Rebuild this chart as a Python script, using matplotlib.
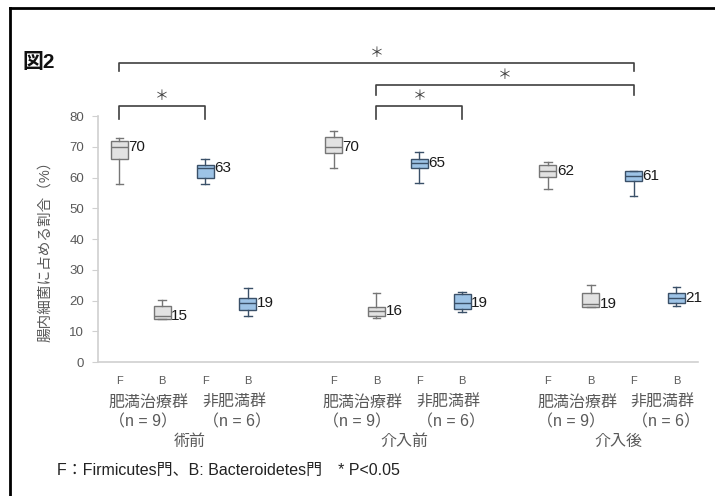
"""Figure 2: share of Firmicutes / Bacteroidetes in gut bacteria, box plots."""

import matplotlib

matplotlib.use("Agg")
import matplotlib.pyplot as plt
from matplotlib.lines import Line2D

plt.rcParams["font.family"] = ["Liberation Sans", "Noto Sans CJK JP", "DejaVu Sans"]

# box positions: 3 periods x (obese F, obese B, non-obese F, non-obese B)
positions = [0, 1, 2, 3, 5, 6, 7, 8, 10, 11, 12, 13]
phylum = ["F", "B", "F", "B"] * 3
is_obese = [True, True, False, False] * 3

whis_lo = [58, 14, 58, 15, 63, 14.2, 58.2, 16.2, 56.2, 18, 54, 18.2]
q1 = [66, 14.1, 60, 17, 68, 15, 63, 17.1, 60.1, 18, 59, 19.3]
med = [70, 15, 63, 19.1, 70.1, 16.6, 64.7, 19.3, 62.2, 18.8, 60.6, 20.7]
q3 = [72, 18.2, 64.2, 21, 73.2, 18, 66, 22.1, 64.2, 22.4, 62.2, 22.4]
whis_hi = [73, 20.2, 66, 24.2, 75.2, 22.4, 68.2, 22.9, 65.2, 25, 62.2, 24.3]
value_labels = [70, 15, 63, 19, 70, 16, 65, 19, 62, 19, 61, 21]

group_names = ["肥満治療群", "非肥満群"] * 3
group_n = ["（n = 9）", "（n = 6）"] * 3
periods = ["術前", "介入前", "介入後"]

# significance brackets: (left box, right box, bar height, leg bottom)
brackets = [(0, 10, 97.2, 94.8), (5, 10, 90.1, 86.8), (5, 7, 83.3, 79.0), (0, 2, 83.3, 79.0)]

fig = plt.figure(figsize=(7.15, 4.96), dpi=100)
ax = fig.add_axes([0.137, 0.270, 0.839, 0.496])

stats = []
for i in range(len(positions)):
    stats.append(
        {
            "whislo": whis_lo[i],
            "q1": q1[i],
            "med": med[i],
            "q3": q3[i],
            "whishi": whis_hi[i],
        }
    )

for i, s in enumerate(stats):
    if is_obese[i]:
        face, edge = "#e2e2e2", "#767676"
    else:
        face, edge = "#9dc3e6", "#3a5068"
    ax.bxp(
        [s],
        positions=[positions[i]],
        widths=0.4,
        showfliers=False,
        patch_artist=True,
        boxprops=dict(facecolor=face, edgecolor=edge, linewidth=1.0),
        medianprops=dict(color=edge, linewidth=1.0),
        whiskerprops=dict(color=edge, linewidth=1.0),
        capprops=dict(color=edge, linewidth=1.0),
        capwidths=0.18,
    )
    ax.text(positions[i] + 0.21, med[i], str(value_labels[i]),
            ha="left", va="center", fontsize=11, color="#1a1a1a")

ax.set_xlim(-0.5, 13.5)
ax.set_ylim(0, 80)
ax.set_yticks(range(0, 81, 10))
ax.set_xticks([])
for side in ["top", "right"]:
    ax.spines[side].set_visible(False)
for side in ["left", "bottom"]:
    ax.spines[side].set_color("#d0d0d0")
    ax.spines[side].set_linewidth(1.2)
ax.tick_params(axis="y", length=4, color="#d0d0d0", labelsize=9.5,
               labelcolor="#595959", pad=6)

xt = ax.get_xaxis_transform()
for i, p in enumerate(positions):
    ax.text(p, -0.075, phylum[i], transform=xt, ha="center", va="center",
            fontsize=8, color="#595959")
for g in range(6):
    left = positions[2 * g]
    right = positions[2 * g + 1]
    centre = (left + right) / 2
    ax.text(centre + 0.18, -0.165, group_names[g], transform=xt, ha="center",
            va="center", fontsize=11.5, color="#595959")
    ax.text(centre + 0.05 + 0.2 * (g % 2), -0.243, group_n[g], transform=xt,
            ha="center", va="center", fontsize=11.5, color="#595959")
for k, name in enumerate(periods):
    centre = (positions[4 * k] + positions[4 * k + 3]) / 2
    ax.text(centre + 0.15, -0.322, name, transform=xt, ha="center", va="center",
            fontsize=11.5, color="#595959")

for lo, hi, top, leg in brackets:
    x0, x1 = positions[lo], positions[hi]
    ax.plot([x0, x0, x1, x1], [leg, top, top, leg], color="#404040",
            linewidth=1.2, clip_on=False)
    ax.text((x0 + x1) / 2, top + 1.0, "＊", ha="center", va="bottom",
            fontsize=10, color="#404040", clip_on=False)

fig.text(0.063, 0.50, "腸内細菌に占める割合（%）", rotation=90, ha="center",
         va="center", fontsize=10.5, color="#595959")
fig.text(0.031, 0.873, "図2", ha="left", va="center", fontsize=15,
         fontweight="bold", color="#111111")
fig.text(0.080, 0.052, "F：Firmicutes門、B: Bacteroidetes門　* P<0.05",
         ha="left", va="center", fontsize=11.5, color="#222222")

fig.add_artist(Line2D([0.014, 1.0], [0.984, 0.984], color="black", linewidth=2))
fig.add_artist(Line2D([0.014, 0.014], [0.0, 0.984], color="black", linewidth=2))

fig.savefig("out.png", dpi=100)
